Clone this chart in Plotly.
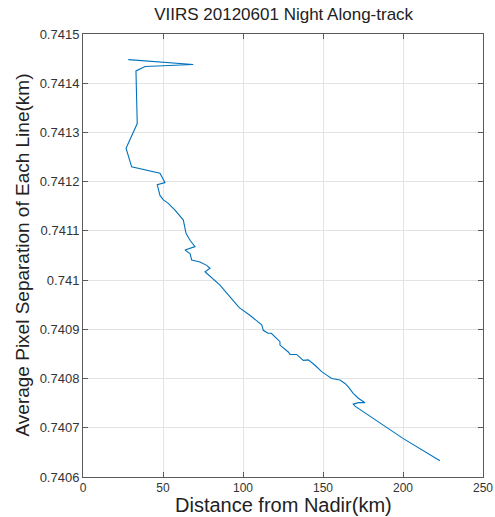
import plotly.graph_objects as go

distance_km = [28.3, 68.9, 38.8, 33.1, 33.9, 26.9, 30.4, 48.1, 51.25, 46.4, 48.1, 50.2, 53.3, 57.5,
               62.7, 63.75, 64.4, 66.9, 70.0, 63.75, 66.9, 67.9, 73.1, 77.3, 79.4, 76.25, 85.6,
               97.1, 98.1, 104.5, 111.7, 112.7, 115.6, 117.7, 120.0, 123.1, 123.1, 128.3, 129.4,
               133.5, 137.7, 140.8, 145.0, 149.2, 152.3, 155.4, 160.6, 163.75, 165.8, 168.9,
               172.1, 176.25, 172.1, 168.9, 170.0, 200.2, 223.1]
separation_km = [0.741448, 0.741438, 0.741434, 0.741425, 0.741318, 0.741268, 0.741230, 0.741217,
                 0.741198, 0.741194, 0.741172, 0.741163, 0.741156, 0.741142, 0.741122, 0.741108,
                 0.741095, 0.741081, 0.741068, 0.741061, 0.741054, 0.741041, 0.741037, 0.741030,
                 0.741024, 0.741017, 0.740990, 0.740946, 0.740943, 0.740928, 0.740909, 0.740898,
                 0.740892, 0.740892, 0.740885, 0.740875, 0.740868, 0.740854, 0.740849, 0.740849,
                 0.740837, 0.740838, 0.740827, 0.740814, 0.740807, 0.740800, 0.740797, 0.740790,
                 0.740783, 0.740770, 0.740760, 0.740751, 0.740751, 0.740748, 0.740744, 0.740678,
                 0.740633]

x_ticks = [0, 50, 100, 150, 200, 250]
y_ticks = [0.7406, 0.7407, 0.7408, 0.7409, 0.7410, 0.7411, 0.7412, 0.7413, 0.7414, 0.7415]
y_tick_text = ["0.7406", "0.7407", "0.7408", "0.7409", "0.741", "0.7411", "0.7412", "0.7413", "0.7414", "0.7415"]

FONT = "Liberation Sans, Arial"

fig = go.Figure()
fig.add_trace(go.Scatter(x=distance_km, y=separation_km, mode="lines",
                         line=dict(color="#0072BD", width=1.1), showlegend=False))

axis_common = dict(showline=True, linecolor="#5a5a5a", linewidth=1, mirror="ticks",
                   ticks="inside", ticklen=5, tickcolor="#5a5a5a", automargin=False,
                   showgrid=True, gridcolor="#e3e3e3", gridwidth=1, zeroline=False)

fig.update_layout(
    width=495, height=517,
    margin=dict(l=83, r=12, t=34, b=40),
    paper_bgcolor="white", plot_bgcolor="white",
    title=dict(text="VIIRS 20120601 Night Along-track", x=0.573, xanchor="center",
               y=0.973, yanchor="middle",
               font=dict(family=FONT, size=17, color="#222222")),
    xaxis=dict(range=[0, 250], tickvals=x_ticks, **axis_common,
               tickfont=dict(family=FONT, size=12, color="#333333")),
    yaxis=dict(range=[0.7406, 0.7415], tickvals=y_ticks, ticktext=y_tick_text, **axis_common,
               tickfont=dict(family=FONT, size=13, color="#333333")),
    annotations=[
        dict(text="Distance from Nadir(km)", xref="paper", yref="paper", x=0.5, y=-0.0632,
             xanchor="center", yanchor="middle", showarrow=False,
             font=dict(family=FONT, size=20, color="#222222")),
        dict(text="Average Pixel Separation of Each Line(km)", xref="paper", yref="paper",
             x=-0.1525, y=0.5, xanchor="center", yanchor="middle", textangle=-90, showarrow=False,
             font=dict(family=FONT, size=19, color="#222222")),
    ],
)

fig.write_html("out.html")
